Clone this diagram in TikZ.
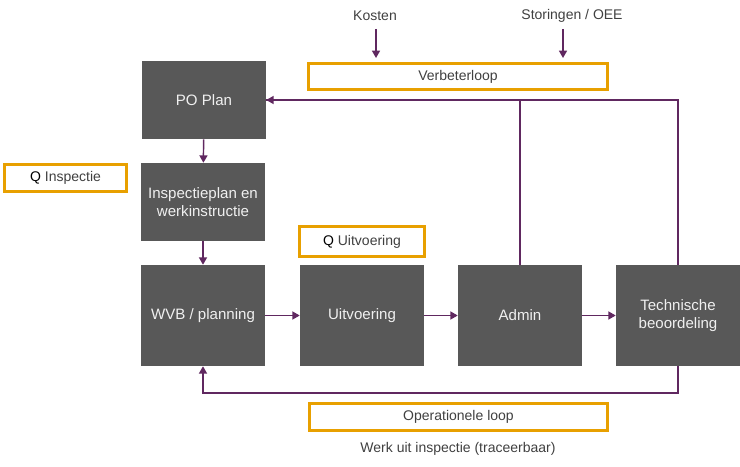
\documentclass[tikz,border=0pt]{standalone}
\usepackage{fontspec}
\setmainfont{Liberation Sans}
\usetikzlibrary{arrows.meta}
\definecolor{paars}{RGB}{96,40,96}
\definecolor{blokgrijs}{RGB}{88,88,88}
\definecolor{oranje}{RGB}{232,160,0}
\definecolor{tekstgrijs}{RGB}{64,64,64}

\begin{document}
\begin{tikzpicture}[x=0.75pt,y=-0.75pt,>={Triangle[length=5.5pt,width=6pt]},
  blok/.style={fill=blokgrijs,text=white!94!black,minimum width=93pt,align=center,font=\fontsize{11.3}{14}\selectfont,inner sep=0pt},
  kader/.style={draw=oranje,line width=2.25pt,fill=white,text=tekstgrijs,font=\fontsize{10.5}{12}\selectfont,inner sep=0pt},
  label/.style={text=tekstgrijs,font=\fontsize{10.5}{12}\selectfont,inner sep=0pt},
  pijl/.style={->,draw=paars,line width=1.1pt},
  lijn/.style={draw=paars,line width=1.1pt}]
\useasboundingbox (0,0) rectangle (740,467);

% Blocks
\node[blok,minimum height=58.5pt] (po) at (204,100) {PO Plan};
\node[blok,minimum height=58.5pt] (insp) at (203,202) {Inspectieplan en\\werkinstructie};
\node[blok,minimum height=75.75pt] (wvb) at (203,315.5) {WVB / planning};
\node[blok,minimum height=75.75pt] (uitv) at (362,315.5) {Uitvoering};
\node[blok,minimum height=75.75pt] (admin) at (520,315.5) {Admin};
\node[blok,minimum height=75.75pt] (tech) at (678,315.5) {Technische\\beoordeling};

% Orange frames
\node[kader,minimum width=224pt,minimum height=19.5pt] (verbeter) at (458,76.5) {Verbeterloop};
\node[kader,minimum width=91.5pt,minimum height=20.25pt] (qinsp) at (65.5,178) {\textcolor{black}{Q} Inspectie};
\node[kader,minimum width=93.75pt,minimum height=22.5pt] (quitv) at (362,241.5) {\textcolor{black}{Q} Uitvoering};
\node[kader,minimum width=223.5pt,minimum height=20.25pt] (operat) at (458.5,417) {Operationele loop};

% Labels
\node[label] (kosten) at (375,16) {Kosten};
\node[label] (storing) at (572,16) {Storingen / OEE};
\node[label] (werk) at (458,449) {Werk uit inspectie (traceerbaar)};

% Input arrows
\coordinate (kin) at (376,29);
\coordinate (sin) at (563,29);
\draw[pijl] (kin) -- ([yshift=3pt]kin |- verbeter.north);
\draw[pijl] (sin) -- ([yshift=3pt]sin |- verbeter.north);

% Flow
\draw[pijl] (po) -- (insp);
\draw[pijl] (insp) -- (wvb);
\draw[pijl] (wvb) -- (uitv);
\draw[pijl] (uitv) -- (admin);
\draw[pijl] (admin) -- (tech);

% Improvement loop
\draw[lijn] (tech.north) |- (po.east);
\draw[pijl] (admin.north) |- (po.east);

% Operational loop
\coordinate (onder) at (678,393);
\draw[pijl] (tech.south) -- (onder) -| (wvb.south);
\end{tikzpicture}
\end{document}
